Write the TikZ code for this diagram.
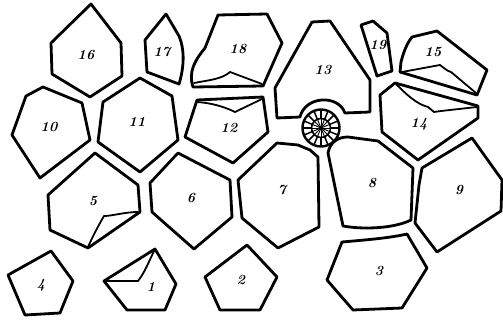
\documentclass[tikz,border=0pt]{standalone}
\begin{document}
\begin{tikzpicture}[x=1pt,y=-1pt,
  piece/.style={line width=2.8pt, line join=round, line cap=round},
  fold/.style={line width=1.8pt, line join=round, line cap=round},
  num/.style={font=\bfseries\itshape\fontsize{14}{14}\selectfont, inner sep=0pt}]
\useasboundingbox (0,0) rectangle (503,320);

% top row
\draw[piece] (91,4) -- (121,43) -- (122,76) -- (90,97) -- (52,74) -- (51,43) -- cycle;
\node[num] (n16) at (86,55) {16};

\draw[piece] (166,14) -- (179,36) .. controls (185,50) and (184,68) .. (179,84) -- (147,72) -- (145,40) -- cycle;
\node[num] (n17) at (162,52) {17};

\draw[piece] (218,15) -- (267,14) -- (282,43) -- (263,86) -- (193,87) .. controls (188,72) and (195,60) .. (205,48) -- cycle;
\draw[fold] (194,83) .. controls (210,80) and (222,79) .. (230,72) -- (262,84);
\node[num] (n18) at (238,49) {18};

\draw[piece] (312,22) -- (330,21) -- (370,80) -- (370,112) -- (345,113)
  .. controls (338,94) and (305,96) .. (300,117) -- (277,118) -- (275,88) -- cycle;
\node[num] (n13) at (323,70) {13};

\draw[piece] (361,25) -- (373,21) -- (387,33) -- (392,71) -- (377,76) -- cycle;
\node[num] (n19) at (378,45) {19};

\draw[piece] (437,31) -- (487,70) -- (477,95) -- (400,72) -- (401,62) .. controls (404,50) and (408,42) .. (412,37) -- cycle;
\draw[fold] (402,72) -- (440,65) .. controls (444,68) and (447,71) .. (451,72) -- (476,93);
\node[num] (n15) at (433,52) {15};

% second row
\draw[piece] (43,87) -- (82,103) -- (90,140) -- (40,178) -- (12,135) -- (26,96) -- cycle;
\node[num] (n10) at (49,127) {10};

\draw[piece] (140,78) -- (172,96) -- (178,140) -- (140,172) -- (98,142) -- (103,102) -- cycle;
\node[num] (n11) at (137,122) {11};

\draw[piece] (197,100) -- (263,97) -- (268,132) -- (233,163) -- (185,137) -- cycle;
\draw[fold] (197,102) .. controls (212,103) and (225,107) .. (235,112) -- (262,99);
\node[num] (n12) at (229,128) {12};

\draw[piece] (395,83) -- (478,106) -- (478,118) -- (418,160) -- (382,132) -- (380,95) -- cycle;
\draw[fold] (396,84) .. controls (405,93) and (416,104) .. (428,107) -- (434,112) -- (441,111) -- (477,107);
\node[num] (n14) at (419,124) {14};

% rosette
\coordinate (rc) at (321,128);
\draw[line width=2.4pt] (rc) circle[radius=18.5];
\draw[line width=1.6pt] (rc) circle[radius=9.5];
\foreach \a in {0,22.5,...,337.5}
  \draw[line width=1.5pt] (rc) ++(\a:9.5) -- ++(\a:9);
\foreach \a in {0,22.5,...,337.5}
  \draw[line width=0.9pt] (rc) -- ++(\a:9.5);

% third row
\draw[piece] (95,153) -- (138,185) -- (140,212) -- (88,248) -- (50,230) -- (48,195) -- cycle;
\draw[fold] (138,212) .. controls (125,212) and (112,216) .. (104,216) .. controls (97,228) and (92,238) .. (88,247);
\node[num] (n5) at (93,201) {5};

\draw[piece] (178,153) -- (230,180) -- (232,217) -- (194,249) -- (152,212) -- (150,183) -- cycle;
\node[num] (n6) at (191,198) {6};

\draw[piece] (277,143) -- (298,145) -- (310,150) -- (318,157) -- (319,227) -- (278,248) -- (242,218) -- (238,180) -- cycle;
\node[num] (n7) at (282,190) {7};

\draw[piece] (328,153) .. controls (330,142) and (338,137) .. (348,137) -- (378,141) -- (413,168) -- (411,220) .. controls (395,228) and (365,230) .. (343,226) -- cycle;
\node[num] (n8) at (372,183) {8};

\draw[piece] (422,168) -- (472,138) -- (502,180) -- (501,211) -- (437,252) -- (415,223) -- (419,185) -- cycle;
\node[num] (n9) at (459,190) {9};

% bottom row
\draw[piece] (51,251) -- (73,281) -- (60,313) -- (25,315) -- (8,275) -- cycle;
\node[num] (n4) at (41,285) {4};

\draw[piece] (155,249) -- (176,284) -- (165,310) -- (127,310) -- (104,281) -- cycle;
\draw[fold] (105,281) -- (138,281) .. controls (142,276) and (145,270) .. (147,266) -- (154,251);
\node[num] (n1) at (151,287) {1};

\draw[piece] (247,245) -- (277,277) -- (260,310) -- (220,310) -- (205,277) -- cycle;
\node[num] (n2) at (241,280) {2};

\draw[piece] (342,242) .. controls (365,240) and (390,238) .. (407,234) -- (427,268) -- (402,308) -- (353,310) -- (327,280) -- cycle;
\node[num] (n3) at (379,271) {3};
\end{tikzpicture}
\end{document}
